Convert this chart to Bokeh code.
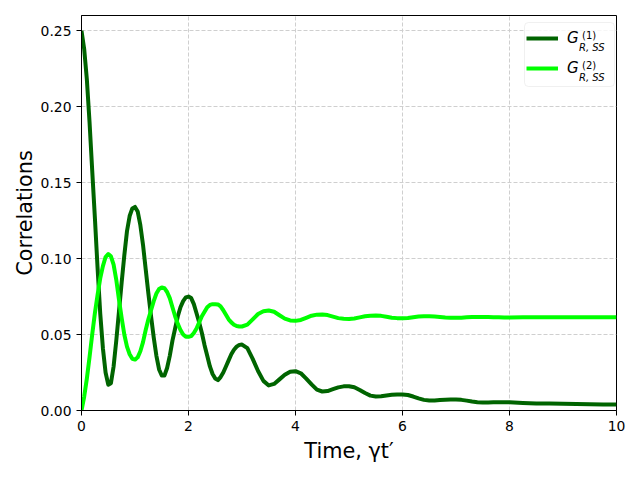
from bokeh.plotting import figure
from bokeh.models import Range1d, FixedTicker, PrintfTickFormatter, Legend, LegendItem, Label, BoxAnnotation
from bokeh.embed import file_html
from bokeh.resources import INLINE

# ---- data ----
t = [0.00, 0.05, 0.10, 0.15, 0.20, 0.25, 0.30, 0.35, 0.40, 0.45,
     0.50, 0.55, 0.60, 0.65, 0.70, 0.75, 0.80, 0.85, 0.90, 0.95,
     1.00, 1.05, 1.10, 1.15, 1.20, 1.25, 1.30, 1.35, 1.40, 1.45,
     1.50, 1.55, 1.60, 1.65, 1.70, 1.75, 1.80, 1.85, 1.90, 1.95,
     2.00, 2.05, 2.10, 2.15, 2.20, 2.25, 2.30, 2.35, 2.40, 2.45,
     2.50, 2.55, 2.60, 2.65, 2.70, 2.75, 2.80, 2.85, 2.90, 2.95,
     3.00, 3.10, 3.20, 3.30, 3.40, 3.50, 3.60, 3.70, 3.80, 3.90,
     4.00, 4.10, 4.20, 4.30, 4.40, 4.50, 4.60, 4.70, 4.80, 4.90,
     5.00, 5.10, 5.20, 5.30, 5.40, 5.50, 5.60, 5.70, 5.80, 5.90,
     6.00, 6.10, 6.20, 6.30, 6.40, 6.50, 6.60, 6.70, 6.80, 6.90,
     7.00, 7.10, 7.20, 7.30, 7.40, 7.50, 7.60, 7.70, 7.80, 7.90,
     8.00, 8.25, 8.50, 8.75, 9.00, 9.25, 9.50, 9.75, 10.00]

g1 = [0.250, 0.238, 0.218, 0.190, 0.158, 0.127, 0.094, 0.064, 0.041, 0.025,
      0.017, 0.018, 0.029, 0.046, 0.065, 0.084, 0.102, 0.118, 0.128, 0.133,
      0.134, 0.131, 0.122, 0.109, 0.093, 0.077, 0.062, 0.048, 0.036, 0.027,
      0.023, 0.023, 0.028, 0.036, 0.046, 0.054, 0.062, 0.068, 0.072, 0.0745,
      0.075, 0.074, 0.070, 0.064, 0.058, 0.051, 0.043, 0.036, 0.029, 0.024,
      0.021, 0.020, 0.022, 0.025, 0.029, 0.033, 0.037, 0.040, 0.042, 0.0432,
      0.0434, 0.041, 0.034, 0.026, 0.0195, 0.0165, 0.0175, 0.0205, 0.0235, 0.0255,
      0.0259, 0.0245, 0.021, 0.0172, 0.0137, 0.0125, 0.0128, 0.0140, 0.0152, 0.0159,
      0.0160, 0.0153, 0.0135, 0.0115, 0.0098, 0.0092, 0.0094, 0.0099, 0.0103, 0.0106,
      0.0106, 0.0102, 0.0092, 0.0080, 0.0070, 0.0066, 0.0066, 0.0069, 0.0071, 0.0072,
      0.0072, 0.0070, 0.0065, 0.0059, 0.0055, 0.0053, 0.0053, 0.0054, 0.0055, 0.0055,
      0.0055, 0.0050, 0.0046, 0.0046, 0.0045, 0.0043, 0.0041, 0.0040, 0.0040]

g2 = [0.000, 0.009, 0.021, 0.035, 0.050, 0.064, 0.076, 0.087, 0.095, 0.101,
      0.103, 0.1015, 0.096, 0.086, 0.073, 0.061, 0.050, 0.042, 0.037, 0.034,
      0.0335, 0.035, 0.039, 0.045, 0.053, 0.060, 0.066, 0.072, 0.077, 0.080,
      0.081, 0.0805, 0.078, 0.074, 0.068, 0.062, 0.057, 0.053, 0.050, 0.0485,
      0.0485, 0.049, 0.051, 0.054, 0.058, 0.062, 0.065, 0.068, 0.0695, 0.070,
      0.070, 0.0698, 0.0685, 0.066, 0.063, 0.060, 0.058, 0.0565, 0.0556, 0.0553,
      0.0553, 0.0565, 0.0600, 0.0635, 0.0653, 0.0658, 0.0650, 0.0627, 0.0605, 0.0593,
      0.0590, 0.0596, 0.0610, 0.0624, 0.0631, 0.0632, 0.0628, 0.0618, 0.0608, 0.0604,
      0.0603, 0.0606, 0.0613, 0.0620, 0.0624, 0.0625, 0.0623, 0.0617, 0.0611, 0.0608,
      0.0607, 0.0609, 0.0614, 0.0618, 0.0620, 0.0620, 0.0618, 0.0615, 0.0612, 0.0610,
      0.0610, 0.0611, 0.0613, 0.0615, 0.0616, 0.0616, 0.0615, 0.0614, 0.0613, 0.0612,
      0.0612, 0.0613, 0.0613, 0.0613, 0.0613, 0.0613, 0.0613, 0.0613, 0.0613]

x_ticks = [0, 2, 4, 6, 8, 10]
y_ticks = [0.00, 0.05, 0.10, 0.15, 0.20, 0.25]
x_label = "Time, \u03b3t\u2032"
y_label = "Correlations"
legend_sup = ["(1)", "(2)"]
legend_sub = ["R, SS", "R, SS"]

# ---- layout ----
W, H = 640, 480
FL, FT, FW, FH = 81, 15, 535, 395
XMIN, XMAX, YMIN, YMAX = 0, 10, 0, 0.26
FONT = "DejaVu Sans"


def dx(px):
    return XMIN + (px - FL) / FW * (XMAX - XMIN)


def dy(py):
    return YMIN + (FT + FH - py) / FH * (YMAX - YMIN)


p = figure(width=W, height=H, output_backend="svg", toolbar_location=None,
           x_range=Range1d(XMIN, XMAX), y_range=Range1d(YMIN, YMAX),
           min_border_left=FL, min_border_right=W - FL - FW,
           min_border_top=FT, min_border_bottom=H - FT - FH)
p.background_fill_color = "white"
p.border_fill_color = "white"
p.outline_line_color = "black"
p.outline_line_width = 1

p.xaxis.ticker = FixedTicker(ticks=x_ticks)
p.yaxis.ticker = FixedTicker(ticks=y_ticks)
p.yaxis.formatter = PrintfTickFormatter(format="%.2f")
for ax in (p.xaxis, p.yaxis):
    ax.axis_line_color = "black"
    ax.major_tick_line_color = "black"
    ax.major_tick_out = 5
    ax.major_tick_in = 0
    ax.minor_tick_line_color = None
    ax.major_label_text_font = FONT
    ax.major_label_text_font_size = "13.9px"
    ax.major_label_text_color = "black"
    ax.axis_label_text_font = FONT
    ax.axis_label_text_font_size = "20.8px"
    ax.axis_label_text_font_style = "normal"
    ax.axis_label_text_color = "black"
p.yaxis.axis_label_standoff = 1
p.xaxis.axis_label = x_label
p.yaxis.axis_label = y_label

for g in (p.xgrid, p.ygrid):
    g.grid_line_color = "#cfcfcf"
    g.grid_line_dash = "4 2"
    g.grid_line_width = 1

r1 = p.line(t, g1, line_color="#006400", line_width=4, line_join="round")
r2 = p.line(t, g2, line_color="#00ff00", line_width=4, line_join="round")

# legend frame
box = BoxAnnotation(left=dx(524), right=dx(614), top=dy(22), bottom=dy(86),
                    fill_color="white", fill_alpha=0.8,
                    line_color="#cccccc", line_width=1, border_radius=4)
p.add_layout(box)

legend = Legend(items=[LegendItem(label="G", renderers=[r1]),
                       LegendItem(label="G", renderers=[r2])],
                location=(526 - FL, FT + FH - 78.2), padding=0, spacing=10,
                glyph_width=32, glyph_height=20, label_height=20,
                label_standoff=9, margin=0,
                border_line_alpha=0, background_fill_alpha=0,
                label_text_font=FONT, label_text_font_style="italic",
                label_text_font_size="15px", label_text_color="black")
p.add_layout(legend)

for i in range(2):
    off = 30 * i
    p.add_layout(Label(x=dx(581.5), y=dy(34.8 + off), text=legend_sup[i],
                       text_font=FONT, text_font_size="10px",
                       text_baseline="alphabetic", text_color="black"))
    p.add_layout(Label(x=dx(578.5), y=dy(46.8 + off), text=legend_sub[i],
                       text_font=FONT, text_font_size="10px", text_font_style="italic",
                       text_baseline="alphabetic", text_color="black"))

open("out.html", "w").write(file_html(p, INLINE))
